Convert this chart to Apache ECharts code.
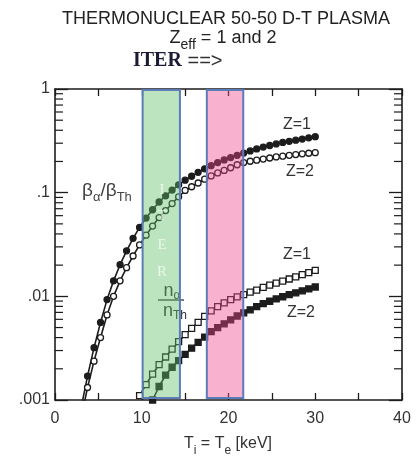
<!DOCTYPE html>
<html>
<head>
<meta charset="utf-8">
<script src="https://cdn.jsdelivr.net/npm/echarts@6/dist/echarts.min.js"></script>
<style>
  html, body { margin: 0; padding: 0; background: #fff; }
  #chart { width: 417px; height: 466px; }
</style>
</head>
<body>
<div id="chart"></div>
<script>
// Temperature grid (keV) for the beta ratio curves
const betaT = [3, 3.75, 4.5, 5.25, 6, 6.75, 7.5, 8.25, 9, 9.75, 10.5, 11.25, 12, 12.75, 13.5, 14.25,
  15, 15.75, 16.5, 17.25, 18, 18.75, 19.5, 20.25, 21, 21.75, 22.5, 23.25, 24, 24.75, 25.5, 26.25,
  27, 27.75, 28.5, 29.25, 30];
// beta_alpha / beta_Th, Zeff = 1 (filled circles)
const betaZ1 = [0.00083, 0.0017, 0.0032, 0.0056, 0.0093, 0.0141, 0.0202, 0.0275, 0.0363, 0.0462,
  0.0569, 0.0684, 0.0813, 0.0933, 0.106, 0.119, 0.132, 0.144, 0.157, 0.170, 0.182, 0.195, 0.207,
  0.218, 0.229, 0.241, 0.253, 0.264, 0.275, 0.285, 0.295, 0.305, 0.313, 0.321, 0.329, 0.338, 0.347];
// beta_alpha / beta_Th, Zeff = 2 (open circles)
const betaZ2 = [0.00066, 0.00132, 0.00237, 0.0040, 0.00661, 0.0100, 0.0141, 0.0189, 0.0245, 0.0313,
  0.0389, 0.0476, 0.0575, 0.0672, 0.0785, 0.0912, 0.105, 0.114, 0.124, 0.135, 0.145, 0.155, 0.164,
  0.174, 0.186, 0.195, 0.201, 0.206, 0.211, 0.216, 0.221, 0.225, 0.229, 0.233, 0.237, 0.240, 0.243];

// n_alpha / n_Th, Zeff = 1 (open squares)
const densZ1T = [9.75, 10.5, 11.25, 12, 12.75, 13.5, 14.25, 15, 15.75, 16.5, 17.25, 18, 18.75, 19.5,
  20.25, 21, 21.75, 22.5, 23.25, 24, 24.75, 25.5, 26.25, 27, 27.75, 28.5, 29.25, 30];
const densZ1 = [0.0011, 0.00141, 0.00178, 0.00219, 0.0026, 0.00309, 0.00365, 0.00427, 0.0049,
  0.00562, 0.00642, 0.00724, 0.00796, 0.00866, 0.00931, 0.00989, 0.0104, 0.0110, 0.0115, 0.0122,
  0.0128, 0.0134, 0.0140, 0.0147, 0.0154, 0.0162, 0.0169, 0.0178];
// n_alpha / n_Th, Zeff = 2 (filled squares)
const densZ2T = [11.25, 12, 12.75, 13.5, 14.25, 15, 15.75, 16.5, 17.25, 18, 18.75, 19.5, 20.25, 21,
  21.75, 22.5, 23.25, 24, 24.75, 25.5, 26.25, 27, 27.75, 28.5, 29.25, 30];
const densZ2 = [0.0010, 0.00135, 0.00174, 0.00207, 0.0024, 0.00275, 0.00316, 0.00359, 0.00405,
  0.00457, 0.00498, 0.00543, 0.00592, 0.00646, 0.00692, 0.00741, 0.00794, 0.00851, 0.00897,
  0.00944, 0.00991, 0.0104, 0.0108, 0.0113, 0.0118, 0.0123];

// Shaded temperature windows (keV)
const iterBand = [10.1, 14.4];
const reactorBand = [17.5, 21.7];

// Axis ticks and labels
const xTickLabels = ['0', '10', '20', '30', '40'];
const yTickLabels = ['.001', '.01', '.1', '1'];
const yMinorTicks = [0.002, 0.003, 0.004, 0.005, 0.006, 0.007, 0.008, 0.009,
  0.02, 0.03, 0.04, 0.05, 0.06, 0.07, 0.08, 0.09,
  0.2, 0.3, 0.4, 0.5, 0.6, 0.7, 0.8, 0.9];

const FONT = '"Liberation Sans", Arial, Helvetica, sans-serif';
const SERIF = '"Liberation Serif", "Times New Roman", serif';
const INK = '#1c1c1c';
const pairs = (xs, ys) => xs.map((x, i) => [x, ys[i]]);

const chart = echarts.init(document.getElementById('chart'), null, { renderer: 'canvas' });

const axisLine = { show: true, onZero: false, lineStyle: { color: INK, width: 1.6 } };
const tickStyle = { color: INK, width: 1.3 };

function curve(name, data, symbol, filled) {
  return {
    name, type: 'line', data, symbol, symbolSize: 6, showAllSymbol: true,
    clip: true, z: 3,
    lineStyle: { color: INK, width: 1.6 },
    itemStyle: { color: filled ? INK : '#fff', borderColor: INK, borderWidth: 1.3 }
  };
}

function letter(ch, y) {
  return { type: 'text', x: 162, y, z: 100,
    style: { text: ch, fontSize: 15, fontFamily: SERIF, fill: 'rgba(255,255,255,0.7)',
      align: 'center', verticalAlign: 'middle' } };
}

function curveLabel(text, x, y) {
  return { type: 'text', x, y, z: 50,
    style: { text, fontSize: 16, fontFamily: FONT, fill: '#333', align: 'center', verticalAlign: 'middle' } };
}

const option = {
  animation: false,
  backgroundColor: '#fff',
  grid: { left: 55, right: 15, top: 89, bottom: 66, containLabel: false, outerBoundsMode: 'none' },
  xAxis: [
    {
      type: 'value', min: 0, max: 40, interval: 10, position: 'bottom',
      axisLine, splitLine: { show: false },
      axisTick: { show: true, inside: true, length: 7, lineStyle: tickStyle },
      minorTick: { show: true, splitNumber: 2, length: 7, lineStyle: tickStyle },
      axisLabel: { color: '#333', fontSize: 16, fontFamily: FONT, margin: 11,
        formatter: (v, i) => xTickLabels[i] }
    },
    {
      type: 'value', min: 0, max: 40, interval: 10, position: 'top',
      axisLine, splitLine: { show: false },
      axisTick: { show: true, inside: true, length: 7, lineStyle: tickStyle },
      minorTick: { show: true, splitNumber: 2, length: 7, lineStyle: tickStyle },
      axisLabel: { show: false }
    }
  ],
  yAxis: [
    {
      type: 'log', logBase: 10, min: 0.001, max: 1, position: 'left',
      axisLine, splitLine: { show: false },
      axisTick: { show: true, inside: true, length: 13, lineStyle: tickStyle },
      axisLabel: { color: '#333', fontSize: 16, fontFamily: FONT, margin: 5,
        formatter: (v, i) => yTickLabels[i] }
    },
    {
      type: 'log', logBase: 10, min: 0.001, max: 1, position: 'right',
      axisLine, splitLine: { show: false },
      axisTick: { show: true, inside: true, length: 13, lineStyle: tickStyle },
      axisLabel: { show: false }
    }
  ],
  series: [
    curve('beta Z=1', pairs(betaT, betaZ1), 'circle', true),
    curve('beta Z=2', pairs(betaT, betaZ2), 'circle', false),
    curve('n Z=1', pairs(densZ1T, densZ1), 'rect', false),
    curve('n Z=2', pairs(densZ2T, densZ2), 'rect', true),
    {
      // minor decade ticks on both vertical edges
      type: 'custom', silent: true, z: 4, clip: false,
      data: yMinorTicks.map(v => [0, v]),
      encode: { x: 0, y: 1 },
      renderItem: (params, api) => {
        const v = api.value(1);
        const a = api.coord([0, v]);
        const b = api.coord([40, v]);
        const len = 8;
        return {
          type: 'group',
          children: [
            { type: 'line', shape: { x1: a[0], y1: a[1], x2: a[0] + len, y2: a[1] }, style: { stroke: INK, lineWidth: 1.2 } },
            { type: 'line', shape: { x1: b[0], y1: b[1], x2: b[0] - len, y2: b[1] }, style: { stroke: INK, lineWidth: 1.2 } }
          ]
        };
      }
    },
    {
      // translucent temperature windows laid over the curves
      type: 'custom', silent: true, z: 10, clip: true,
      data: [
        [iterBand[0], iterBand[1], 0.001, 1, 0],
        [reactorBand[0], reactorBand[1], 0.001, 1, 1]
      ],
      encode: { x: [0, 1], y: [2, 3] },
      renderItem: (params, api) => {
        const p0 = api.coord([api.value(0), api.value(3)]);
        const p1 = api.coord([api.value(1), api.value(2)]);
        const green = api.value(4) === 0;
        return {
          type: 'rect',
          shape: { x: p0[0], y: p0[1] + 1, width: p1[0] - p0[0], height: p1[1] - p0[1] - 3 },
          style: {
            fill: green ? 'rgba(95,190,100,0.42)' : 'rgba(238,70,140,0.42)',
            stroke: '#5a7cb8', lineWidth: 2
          }
        };
      }
    }
  ],
  graphic: [
    {
      type: 'text', x: 226, y: 19, z: 50,
      style: { text: 'THERMONUCLEAR 50-50 D-T PLASMA', fontSize: 18, fontFamily: FONT,
        fill: '#222', align: 'center', verticalAlign: 'middle' }
    },
    {
      type: 'text', x: 223, y: 40, z: 50,
      style: {
        text: '{m|Z}{s|eff}{m| = 1 and 2}', align: 'center', verticalAlign: 'middle',
        rich: {
          m: { fontSize: 18, fontFamily: FONT, fill: '#222', lineHeight: 22, verticalAlign: 'top' },
          s: { fontSize: 14, fontFamily: FONT, fill: '#222', lineHeight: 14, padding: [9, 0, 0, 0], verticalAlign: 'top' }
        }
      }
    },
    {
      type: 'text', x: 133, y: 61, z: 50,
      style: {
        text: '{i|ITER}{a| ==>}', align: 'left', verticalAlign: 'middle',
        rich: {
          i: { fontSize: 20, fontFamily: SERIF, fontWeight: 'bold', fill: '#1b1b33' },
          a: { fontSize: 20, fontFamily: FONT, fill: '#333' }
        }
      }
    },
    {
      type: 'text', x: 228, y: 446, z: 50,
      style: {
        text: '{m|T}{s|i}{m| = T}{s|e}{m| [keV]}', align: 'center', verticalAlign: 'middle',
        rich: {
          m: { fontSize: 16, fontFamily: FONT, fill: '#333', lineHeight: 20, verticalAlign: 'top' },
          s: { fontSize: 12, fontFamily: FONT, fill: '#333', lineHeight: 12, padding: [9, 0, 0, 0], verticalAlign: 'top' }
        }
      }
    },
    {
      type: 'text', x: 82, y: 192, z: 50,
      style: {
        text: '{m|β}{s|α}{m|/β}{s|Th}', align: 'left', verticalAlign: 'middle',
        rich: {
          m: { fontSize: 19, fontFamily: FONT, fill: '#444', lineHeight: 22, verticalAlign: 'top' },
          s: { fontSize: 13, fontFamily: FONT, fill: '#444', lineHeight: 13, padding: [10, 0, 0, 0], verticalAlign: 'top' }
        }
      }
    },
    // n_alpha / n_Th fraction label, drawn beneath the ITER window
    {
      type: 'text', x: 172, y: 291, z: 0,
      style: {
        text: '{m|n}{s|α}', align: 'center', verticalAlign: 'middle',
        rich: {
          m: { fontSize: 18, fontFamily: FONT, fill: '#333', lineHeight: 18, verticalAlign: 'top' },
          s: { fontSize: 12, fontFamily: FONT, fill: '#333', lineHeight: 12, padding: [8, 0, 0, 0], verticalAlign: 'top' }
        }
      }
    },
    { type: 'line', z: 0, shape: { x1: 158, y1: 300, x2: 184, y2: 300 }, style: { stroke: '#333', lineWidth: 1.3 } },
    {
      type: 'text', x: 175, y: 311, z: 0,
      style: {
        text: '{m|n}{s|Th}', align: 'center', verticalAlign: 'middle',
        rich: {
          m: { fontSize: 18, fontFamily: FONT, fill: '#333', lineHeight: 18, verticalAlign: 'top' },
          s: { fontSize: 12, fontFamily: FONT, fill: '#333', lineHeight: 12, padding: [8, 0, 0, 0], verticalAlign: 'top' }
        }
      }
    },
    // I T E R lettering inside the window
    letter('I', 190), letter('T', 216), letter('E', 245), letter('R', 272),
    // curve labels
    curveLabel('Z=1', 297, 125), curveLabel('Z=2', 300, 172),
    curveLabel('Z=1', 297, 255), curveLabel('Z=2', 301, 313)
  ]
};

chart.setOption(option);
</script>
</body>
</html>
